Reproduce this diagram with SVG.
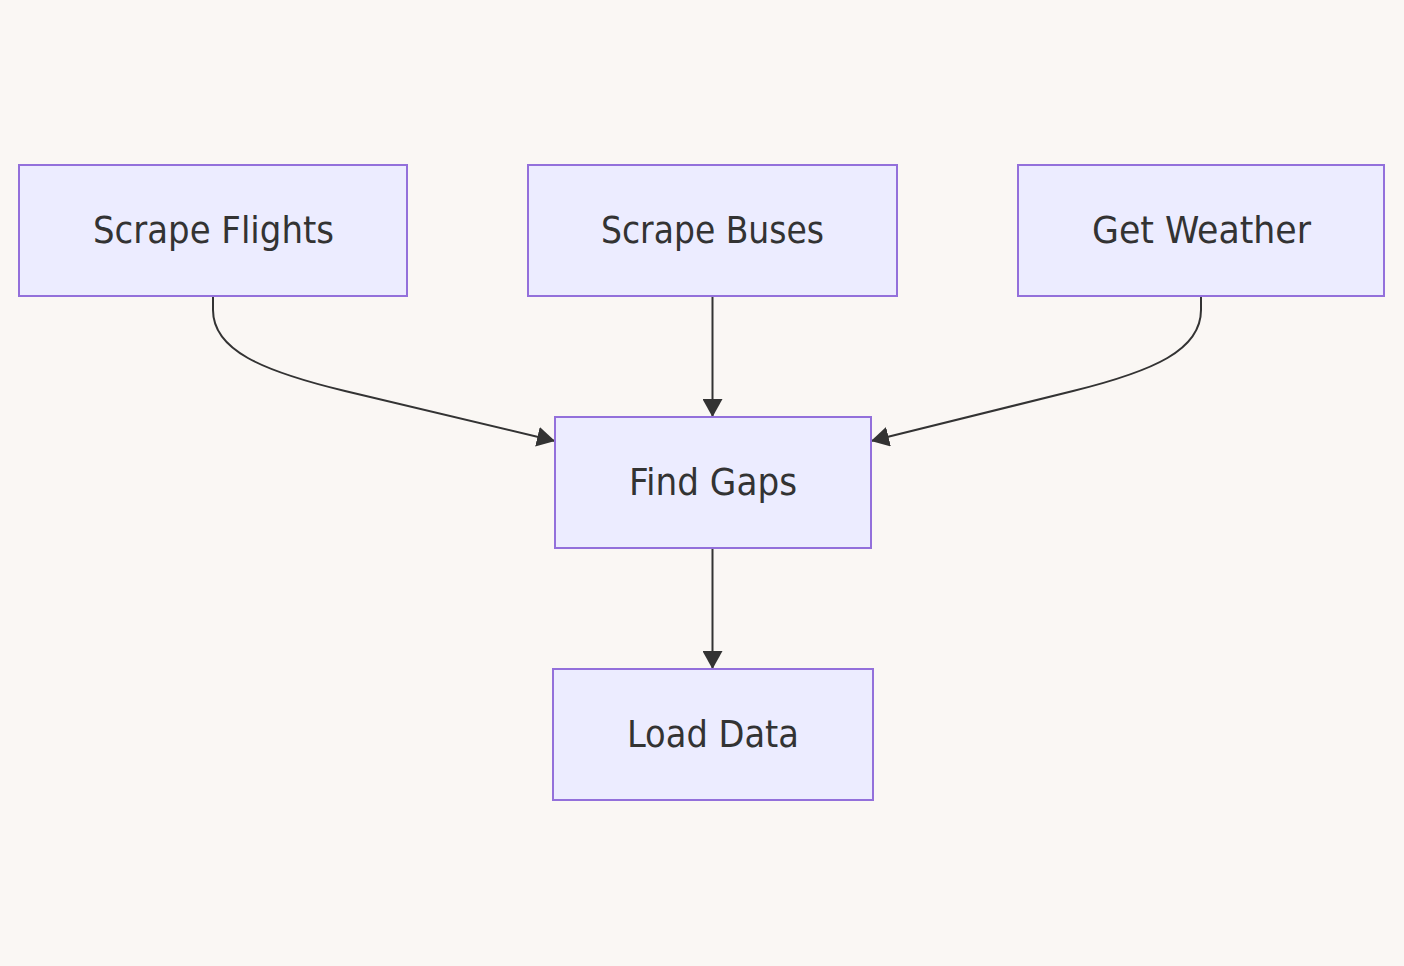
<svg xmlns="http://www.w3.org/2000/svg" width="1404" height="966" viewBox="0 0 1404 966">
<defs>
<style>
.node rect{fill:#ECECFF;stroke:#9370DB;stroke-width:2;}
.node text{font-family:"DejaVu Sans",Verdana,sans-serif;font-stretch:condensed;font-size:38px;fill:#333333;text-anchor:middle;}
.edge{fill:none;stroke:#333333;stroke-width:2;}
</style>
<marker id="arrow" viewBox="0 0 10 10" refX="10" refY="5" markerWidth="18" markerHeight="20" preserveAspectRatio="none" markerUnits="userSpaceOnUse" orient="auto">
<path d="M0,0 L10,5 L0,10 z" fill="#333333"/>
</marker>
</defs>
<rect x="0" y="0" width="1404" height="966" fill="#FAF7F4"/>
<g id="connectors">
<path class="edge" d="M213,296 V310 C213,350 262,371 345,391 L555,441" marker-end="url(#arrow)"/>
<path class="edge" d="M712.5,296 V417" marker-end="url(#arrow)"/>
<path class="edge" d="M1201,296 V310 C1201,350 1154,371 1073,391 L871,441" marker-end="url(#arrow)"/>
<path class="edge" d="M712.5,548 V669" marker-end="url(#arrow)"/>
</g>
<g id="scrape-flights" class="node">
<rect x="19" y="165" width="388" height="131"/>
<text x="213.5" y="243" textLength="241" lengthAdjust="spacingAndGlyphs">Scrape Flights</text>
</g>
<g id="scrape-buses" class="node">
<rect x="528" y="165" width="369" height="131"/>
<text x="712.5" y="243" textLength="223" lengthAdjust="spacingAndGlyphs">Scrape Buses</text>
</g>
<g id="get-weather" class="node">
<rect x="1018" y="165" width="366" height="131"/>
<text x="1201.5" y="243" textLength="219" lengthAdjust="spacingAndGlyphs">Get Weather</text>
</g>
<g id="find-gaps" class="node">
<rect x="555" y="417" width="316" height="131"/>
<text x="713" y="495" textLength="168" lengthAdjust="spacingAndGlyphs">Find Gaps</text>
</g>
<g id="load-data" class="node">
<rect x="553" y="669" width="320" height="131"/>
<text x="713" y="747" textLength="172" lengthAdjust="spacingAndGlyphs">Load Data</text>
</g>
</svg>
